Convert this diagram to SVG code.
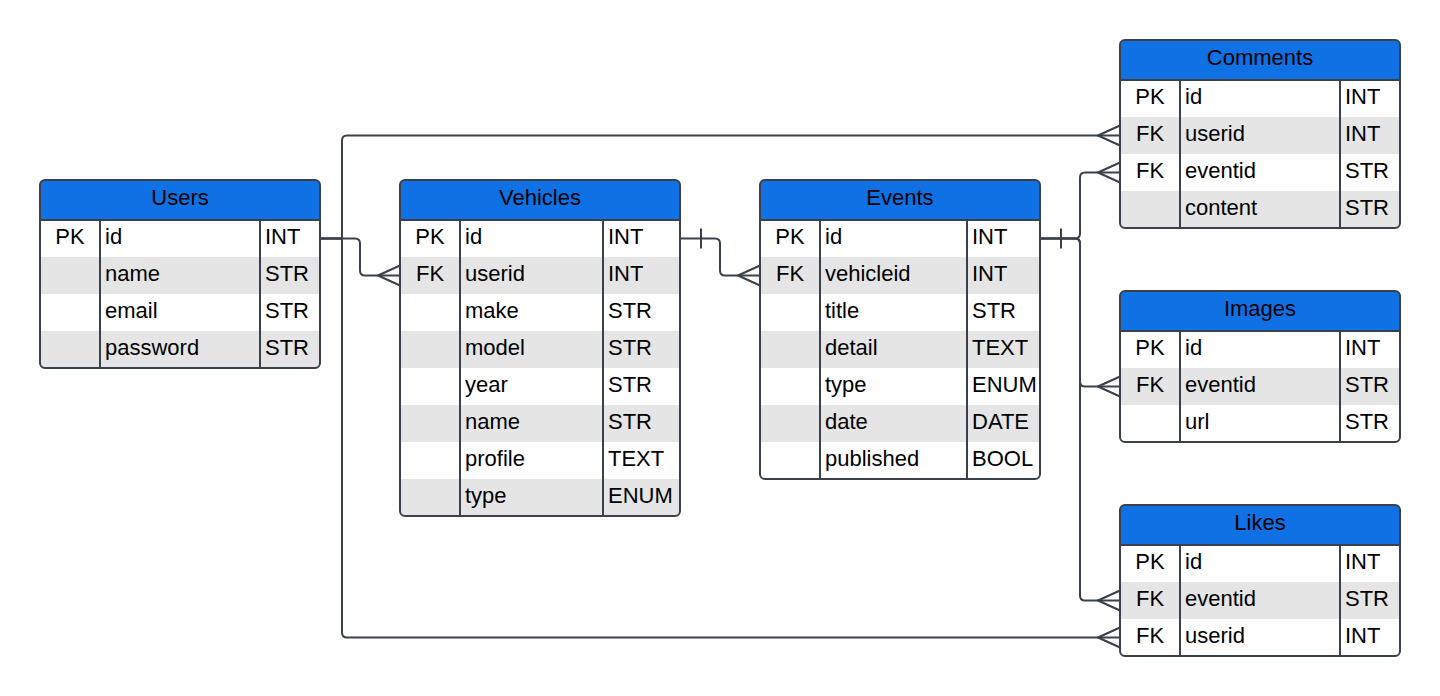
<svg xmlns="http://www.w3.org/2000/svg" width="1440" height="696" viewBox="0 0 1440 696">
<style>
.bg{fill:#ffffff}
.hd{fill:#1071e5}
.alt{fill:#e5e5e5}
.ol{fill:none;stroke:#3a414b;stroke-width:2}
.ln{stroke:#3a414b;stroke-width:2}
text{font-family:"Liberation Sans",Arial,sans-serif;font-size:22px;fill:#000}
.t{text-anchor:middle}
.k{text-anchor:middle}
.cn{fill:none;stroke:#3a414b;stroke-width:2;stroke-linejoin:round}
</style>
<defs>
<clipPath id="cU"><rect x="40" y="180" width="280" height="188" rx="5"/></clipPath>
<clipPath id="cV"><rect x="400" y="180" width="280" height="336" rx="5"/></clipPath>
<clipPath id="cE"><rect x="760" y="180" width="280" height="299" rx="5"/></clipPath>
<clipPath id="cC"><rect x="1120" y="40" width="280" height="188" rx="5"/></clipPath>
<clipPath id="cI"><rect x="1120" y="291" width="280" height="151" rx="5"/></clipPath>
<clipPath id="cL"><rect x="1120" y="505" width="280" height="151" rx="5"/></clipPath>
</defs>
<rect width="1440" height="696" fill="#ffffff"/>

<g id="connectors">
<path class="cn" d="M320,238.5 H355 Q360,238.5 360,243.5 V270.5 Q360,275.5 365,275.5 H400"/>
<path class="cn" d="M400,265.5 L378,275.5 L400,285.5"/>
<path class="cn" d="M680,238.5 H715 Q720,238.5 720,243.5 V270.5 Q720,275.5 725,275.5 H760"/>
<path class="cn" d="M701,228.5 V248.5"/>
<path class="cn" d="M760,265.5 L738,275.5 L760,285.5"/>
<path class="cn" d="M1040,238.5 H1075 Q1080,238.5 1080,233.5 V177.5 Q1080,172.5 1085,172.5 H1120"/>
<path class="cn" d="M1061,228.5 V248.5"/>
<path class="cn" d="M1120,162.5 L1098,172.5 L1120,182.5"/>
<path class="cn" d="M1040,238.5 H1075 Q1080,238.5 1080,243.5 V381.5 Q1080,386.5 1085,386.5 H1120"/>
<path class="cn" d="M1120,376.5 L1098,386.5 L1120,396.5"/>
<path class="cn" d="M1040,238.5 H1075 Q1080,238.5 1080,243.5 V595.5 Q1080,600.5 1085,600.5 H1120"/>
<path class="cn" d="M1120,590.5 L1098,600.5 L1120,610.5"/>
<path class="cn" d="M320,238.5 H342 V140.5 Q342,135.5 347,135.5 H1120"/>
<path class="cn" d="M1120,125.5 L1098,135.5 L1120,145.5"/>
<path class="cn" d="M320,238.5 H342 V632.5 Q342,637.5 347,637.5 H1120"/>
<path class="cn" d="M1120,627.5 L1098,637.5 L1120,647.5"/>
</g>

<g id="users">
<g clip-path="url(#cU)">
<rect class="bg" x="40" y="180" width="280" height="188"/>
<rect class="hd" x="40" y="180" width="280" height="40"/>
<rect class="alt" x="40" y="257" width="280" height="37"/>
<rect class="alt" x="40" y="331" width="280" height="37"/>
</g>
<rect class="ol" x="40" y="180" width="280" height="188" rx="5"/>
<line class="ln" x1="40" y1="220" x2="320" y2="220"/>
<line class="ln" x1="100" y1="220" x2="100" y2="368"/>
<line class="ln" x1="260" y1="220" x2="260" y2="368"/>
<text class="t" x="180" y="205">Users</text>
<text class="k" x="70" y="243.5">PK</text>
<text x="105" y="243.5">id</text><text x="265" y="243.5">INT</text>
<text x="105" y="280.5">name</text><text x="265" y="280.5">STR</text>
<text x="105" y="317.5">email</text><text x="265" y="317.5">STR</text>
<text x="105" y="354.5">password</text><text x="265" y="354.5">STR</text>
</g>

<g id="vehicles">
<g clip-path="url(#cV)">
<rect class="bg" x="400" y="180" width="280" height="336"/>
<rect class="hd" x="400" y="180" width="280" height="40"/>
<rect class="alt" x="400" y="257" width="280" height="37"/>
<rect class="alt" x="400" y="331" width="280" height="37"/>
<rect class="alt" x="400" y="405" width="280" height="37"/>
<rect class="alt" x="400" y="479" width="280" height="37"/>
</g>
<rect class="ol" x="400" y="180" width="280" height="336" rx="5"/>
<line class="ln" x1="400" y1="220" x2="680" y2="220"/>
<line class="ln" x1="460" y1="220" x2="460" y2="516"/>
<line class="ln" x1="603" y1="220" x2="603" y2="516"/>
<text class="t" x="540" y="205">Vehicles</text>
<text class="k" x="430" y="243.5">PK</text>
<text class="k" x="430" y="280.5">FK</text>
<text x="465" y="243.5">id</text><text x="608" y="243.5">INT</text>
<text x="465" y="280.5">userid</text><text x="608" y="280.5">INT</text>
<text x="465" y="317.5">make</text><text x="608" y="317.5">STR</text>
<text x="465" y="354.5">model</text><text x="608" y="354.5">STR</text>
<text x="465" y="391.5">year</text><text x="608" y="391.5">STR</text>
<text x="465" y="428.5">name</text><text x="608" y="428.5">STR</text>
<text x="465" y="465.5">profile</text><text x="608" y="465.5">TEXT</text>
<text x="465" y="502.5">type</text><text x="608" y="502.5">ENUM</text>
</g>

<g id="events">
<g clip-path="url(#cE)">
<rect class="bg" x="760" y="180" width="280" height="299"/>
<rect class="hd" x="760" y="180" width="280" height="40"/>
<rect class="alt" x="760" y="257" width="280" height="37"/>
<rect class="alt" x="760" y="331" width="280" height="37"/>
<rect class="alt" x="760" y="405" width="280" height="37"/>
</g>
<rect class="ol" x="760" y="180" width="280" height="299" rx="5"/>
<line class="ln" x1="760" y1="220" x2="1040" y2="220"/>
<line class="ln" x1="820" y1="220" x2="820" y2="479"/>
<line class="ln" x1="967" y1="220" x2="967" y2="479"/>
<text class="t" x="900" y="205">Events</text>
<text class="k" x="790" y="243.5">PK</text>
<text class="k" x="790" y="280.5">FK</text>
<text x="825" y="243.5">id</text><text x="972" y="243.5">INT</text>
<text x="825" y="280.5">vehicleid</text><text x="972" y="280.5">INT</text>
<text x="825" y="317.5">title</text><text x="972" y="317.5">STR</text>
<text x="825" y="354.5">detail</text><text x="972" y="354.5">TEXT</text>
<text x="825" y="391.5">type</text><text x="972" y="391.5">ENUM</text>
<text x="825" y="428.5">date</text><text x="972" y="428.5">DATE</text>
<text x="825" y="465.5">published</text><text x="972" y="465.5">BOOL</text>
</g>

<g id="comments">
<g clip-path="url(#cC)">
<rect class="bg" x="1120" y="40" width="280" height="188"/>
<rect class="hd" x="1120" y="40" width="280" height="40"/>
<rect class="alt" x="1120" y="117" width="280" height="37"/>
<rect class="alt" x="1120" y="191" width="280" height="37"/>
</g>
<rect class="ol" x="1120" y="40" width="280" height="188" rx="5"/>
<line class="ln" x1="1120" y1="80" x2="1400" y2="80"/>
<line class="ln" x1="1180" y1="80" x2="1180" y2="228"/>
<line class="ln" x1="1340" y1="80" x2="1340" y2="228"/>
<text class="t" x="1260" y="65">Comments</text>
<text class="k" x="1150" y="103.5">PK</text>
<text class="k" x="1150" y="140.5">FK</text>
<text class="k" x="1150" y="177.5">FK</text>
<text x="1185" y="103.5">id</text><text x="1345" y="103.5">INT</text>
<text x="1185" y="140.5">userid</text><text x="1345" y="140.5">INT</text>
<text x="1185" y="177.5">eventid</text><text x="1345" y="177.5">STR</text>
<text x="1185" y="214.5">content</text><text x="1345" y="214.5">STR</text>
</g>

<g id="images">
<g clip-path="url(#cI)">
<rect class="bg" x="1120" y="291" width="280" height="151"/>
<rect class="hd" x="1120" y="291" width="280" height="40"/>
<rect class="alt" x="1120" y="368" width="280" height="37"/>
</g>
<rect class="ol" x="1120" y="291" width="280" height="151" rx="5"/>
<line class="ln" x1="1120" y1="331" x2="1400" y2="331"/>
<line class="ln" x1="1180" y1="331" x2="1180" y2="442"/>
<line class="ln" x1="1340" y1="331" x2="1340" y2="442"/>
<text class="t" x="1260" y="316">Images</text>
<text class="k" x="1150" y="354.5">PK</text>
<text class="k" x="1150" y="391.5">FK</text>
<text x="1185" y="354.5">id</text><text x="1345" y="354.5">INT</text>
<text x="1185" y="391.5">eventid</text><text x="1345" y="391.5">STR</text>
<text x="1185" y="428.5">url</text><text x="1345" y="428.5">STR</text>
</g>

<g id="likes">
<g clip-path="url(#cL)">
<rect class="bg" x="1120" y="505" width="280" height="151"/>
<rect class="hd" x="1120" y="505" width="280" height="40"/>
<rect class="alt" x="1120" y="582" width="280" height="37"/>
</g>
<rect class="ol" x="1120" y="505" width="280" height="151" rx="5"/>
<line class="ln" x1="1120" y1="545" x2="1400" y2="545"/>
<line class="ln" x1="1180" y1="545" x2="1180" y2="656"/>
<line class="ln" x1="1340" y1="545" x2="1340" y2="656"/>
<text class="t" x="1260" y="530">Likes</text>
<text class="k" x="1150" y="568.5">PK</text>
<text class="k" x="1150" y="605.5">FK</text>
<text class="k" x="1150" y="642.5">FK</text>
<text x="1185" y="568.5">id</text><text x="1345" y="568.5">INT</text>
<text x="1185" y="605.5">eventid</text><text x="1345" y="605.5">STR</text>
<text x="1185" y="642.5">userid</text><text x="1345" y="642.5">INT</text>
</g>
</svg>
